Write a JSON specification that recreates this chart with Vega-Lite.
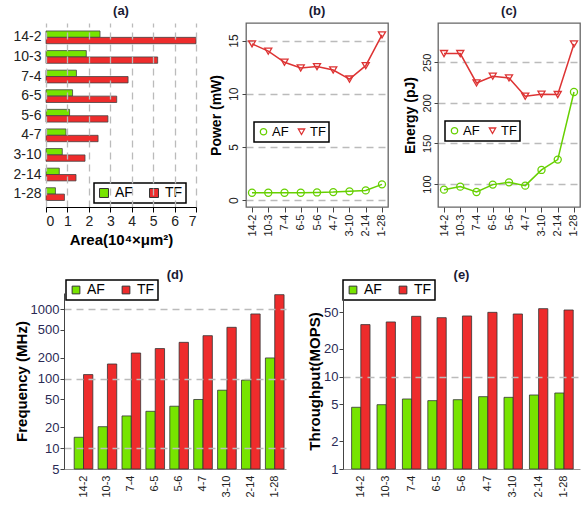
{
  "$schema": "https://vega.github.io/schema/vega-lite/v6.json",
  "padding": {"left": 12, "top": 4, "right": 0, "bottom": 0},
  "background": "white",
  "data": {"values": [
    {"config":"14-2","series":"AF","area":2.52,"power":0.69,"energy":93,"freq":14.3,"thr":4.66},
    {"config":"10-3","series":"AF","area":1.88,"power":0.69,"energy":96.7,"freq":20.3,"thr":4.97},
    {"config":"7-4","series":"AF","area":1.42,"power":0.69,"energy":90.1,"freq":29,"thr":5.73},
    {"config":"6-5","series":"AF","area":1.24,"power":0.69,"energy":99.2,"freq":33.8,"thr":5.5},
    {"config":"5-6","series":"AF","area":1.10,"power":0.72,"energy":102,"freq":40,"thr":5.63},
    {"config":"4-7","series":"AF","area":0.93,"power":0.75,"energy":97.9,"freq":50,"thr":6.07},
    {"config":"3-10","series":"AF","area":0.76,"power":0.82,"energy":117.3,"freq":68,"thr":5.97},
    {"config":"2-14","series":"AF","area":0.62,"power":0.91,"energy":130,"freq":95,"thr":6.33},
    {"config":"1-28","series":"AF","area":0.44,"power":1.48,"energy":213.4,"freq":198,"thr":6.65},
    {"config":"14-2","series":"TF","area":7.0,"power":14.69,"energy":260.7,"freq":114,"thr":36.6},
    {"config":"10-3","series":"TF","area":5.21,"power":14.0,"energy":260.7,"freq":162,"thr":39.1},
    {"config":"7-4","series":"TF","area":3.83,"power":12.96,"energy":224.5,"freq":233,"thr":45.0},
    {"config":"6-5","series":"TF","area":3.30,"power":12.42,"energy":232.8,"freq":270,"thr":43.5},
    {"config":"5-6","series":"TF","area":2.89,"power":12.55,"energy":230.7,"freq":332,"thr":45.4},
    {"config":"4-7","series":"TF","area":2.43,"power":12.23,"energy":208.1,"freq":414,"thr":49.7},
    {"config":"3-10","series":"TF","area":1.82,"power":11.38,"energy":210.6,"freq":546,"thr":47.7},
    {"config":"2-14","series":"TF","area":1.40,"power":12.64,"energy":210.2,"freq":850,"thr":54.5},
    {"config":"1-28","series":"TF","area":0.86,"power":15.53,"energy":272.6,"freq":1610,"thr":52.7}
  ]},
  "config": {
    "font": "Liberation Sans",
    "view": {"stroke": null},
    "axis": {"labelFont": "Liberation Sans", "titleFont": "Liberation Sans", "labelColor": "#222", "titleColor": "#000", "domainColor": "#444", "tickColor": "#444", "gridColor": "#bbbbbb", "gridDash": [7, 5], "gridWidth": 1.3, "titleFontWeight": "bold"},
    "title": {"fontSize": 13, "fontWeight": "bold", "color": "#1a1a33", "offset": 5, "frame": "group"},
    "legend": {"labelFont": "Liberation Sans", "labelFontSize": 13, "labelColor": "#000", "strokeColor": "#000", "fillColor": "#fff", "padding": 3, "cornerRadius": 0, "strokeWidth": 1.5}
  },
  "resolve": {"scale": {"color": "independent", "shape": "independent", "x": "independent", "y": "independent", "xOffset": "independent", "yOffset": "independent"}, "legend": {"color": "independent", "shape": "independent"}},
  "spacing": 22,
  "vconcat": [
    {
      "hconcat": [
        {
          "width": 150, "height": 184, "title": "(a)",
          "mark": {"type": "bar", "stroke": "#444", "strokeWidth": 0.8},
          "encoding": {
            "y": {"field": "config", "type": "nominal", "sort": ["14-2","10-3","7-4","6-5","5-6","4-7","3-10","2-14","1-28"], "scale": {"paddingInner": 0.35, "paddingOuter": 0.37, "align": 0.55}, "axis": {"title": null, "labelFontSize": 14, "ticks": false, "domain": false, "labelPadding": 5}},
            "yOffset": {"field": "series", "type": "nominal", "sort": ["AF","TF"], "scale": {"paddingInner": 0}},
            "x": {"field": "area", "type": "quantitative", "scale": {"domain": [0, 7], "nice": false}, "axis": {"values": [0,1,2,3,4,5,6,7], "grid": true, "title": "Area(10⁴×μm²)", "titleFontSize": 15, "labelFontSize": 14, "tickSize": 5, "domainColor": "#000", "tickColor": "#000", "labelPadding": 2, "titlePadding": 4, "zindex": 1}},
            "color": {"field": "series", "type": "nominal", "scale": {"domain": ["AF","TF"], "range": ["#77E400","#EE2C2C"]}, "legend": {"orient": "none", "legendX": 48, "legendY": 160, "direction": "horizontal", "title": null, "symbolType": "square", "symbolSize": 80, "labelFontSize": 14, "columnPadding": 14, "symbolStrokeColor": "#333", "symbolStrokeWidth": 1}}
          }
        },
        {
          "width": 142, "height": 184, "title": "(b)",
          "view": {"stroke": "#666", "strokeWidth": 1.3},
          "encoding": {
            "x": {"field": "config", "type": "ordinal", "sort": ["14-2","10-3","7-4","6-5","5-6","4-7","3-10","2-14","1-28"], "scale": {"type": "point", "padding": 0.37}, "axis": {"title": null, "labelAngle": 270, "labelFontSize": 11, "domain": false, "tickSize": 5, "labelPadding": 2}},
            "y": {"field": "power", "type": "quantitative", "scale": {"domain": [-0.65, 16.65], "nice": false, "zero": false}, "axis": {"values": [0,5,10,15], "grid": true, "title": "Power (mW)", "titleFontSize": 14, "labelFontSize": 12, "labelAngle": 270, "domain": false, "tickSize": 4, "labelPadding": 2, "titlePadding": 4}},
            "color": {"field": "series", "type": "nominal", "scale": {"domain": ["AF","TF"], "range": ["#66D000","#DD3333"]}, "legend": {"orient": "none", "legendX": 8, "legendY": 99, "direction": "horizontal", "title": null, "symbolSize": 40, "symbolStrokeWidth": 1.3, "columnPadding": 6, "labelOffset": 2}}
          },
          "layer": [
            {"mark": {"type": "line", "strokeWidth": 1.5}},
            {"mark": {"type": "point", "filled": false, "size": 50, "strokeWidth": 1.3, "opacity": 1},
             "encoding": {
               "shape": {"field": "series", "type": "nominal", "scale": {"domain": ["AF","TF"], "range": ["circle","triangle-down"]}, "legend": {"orient": "none", "legendX": 8, "legendY": 99, "direction": "horizontal", "title": null, "symbolSize": 40, "symbolStrokeWidth": 1.3, "columnPadding": 6, "labelOffset": 2}}
             }}
          ]
        },
        {
          "width": 142, "height": 184, "title": "(c)",
          "view": {"stroke": "#666", "strokeWidth": 1.3},
          "encoding": {
            "x": {"field": "config", "type": "ordinal", "sort": ["14-2","10-3","7-4","6-5","5-6","4-7","3-10","2-14","1-28"], "scale": {"type": "point", "padding": 0.37}, "axis": {"title": null, "labelAngle": 270, "labelFontSize": 11, "domain": false, "tickSize": 5, "labelPadding": 2}},
            "y": {"field": "energy", "type": "quantitative", "scale": {"domain": [71.6, 298.4], "nice": false, "zero": false}, "axis": {"values": [100,150,200,250], "grid": true, "title": "Energy (pJ)", "titleFontSize": 14, "labelFontSize": 11, "labelAngle": 270, "domain": false, "tickSize": 4, "labelPadding": 2, "titlePadding": 4}},
            "color": {"field": "series", "type": "nominal", "scale": {"domain": ["AF","TF"], "range": ["#66D000","#DD3333"]}, "legend": {"orient": "none", "legendX": 7, "legendY": 98, "direction": "horizontal", "title": null, "symbolSize": 40, "symbolStrokeWidth": 1.3, "columnPadding": 6, "labelOffset": 2}}
          },
          "layer": [
            {"mark": {"type": "line", "strokeWidth": 1.5}},
            {"mark": {"type": "point", "filled": false, "size": 50, "strokeWidth": 1.3, "opacity": 1},
             "encoding": {
               "shape": {"field": "series", "type": "nominal", "scale": {"domain": ["AF","TF"], "range": ["circle","triangle-down"]}, "legend": {"orient": "none", "legendX": 7, "legendY": 98, "direction": "horizontal", "title": null, "symbolSize": 40, "symbolStrokeWidth": 1.3, "columnPadding": 6, "labelOffset": 2}}
             }}
          ]
        }
      ],
      "spacing": 50, "bounds": "flush",
      "resolve": {"scale": {"color": "independent", "shape": "independent", "x": "independent", "y": "independent", "yOffset": "independent"}, "legend": {"color": "independent", "shape": "independent"}}
    },
    {
      "hconcat": [
        {"width": 1, "height": 1, "data": {"values": []}, "mark": {"type": "point", "opacity": 0}, "encoding": {}},
        {
          "hconcat": [
            {
              "width": 222, "height": 176, "title": {"text": "(d)", "offset": -3},
              "mark": {"type": "bar", "stroke": "#333", "strokeWidth": 0.8},
              "encoding": {
                "x": {"field": "config", "type": "nominal", "sort": ["14-2","10-3","7-4","6-5","5-6","4-7","3-10","2-14","1-28"], "scale": {"paddingInner": 0.22, "paddingOuter": 0.254, "align": 0.84}, "axis": {"title": null, "labelAngle": 270, "labelFontSize": 11, "ticks": false, "domainColor": "#999", "labelPadding": 6}},
                "xOffset": {"field": "series", "type": "nominal", "sort": ["AF","TF"], "scale": {"paddingInner": 0}},
                "y": {"field": "freq", "type": "quantitative", "scale": {"type": "log", "domain": [5, 1702], "nice": false}, "axis": {"values": [5,10,20,50,100,200,500,1000], "format": "d", "grid": true, "gridOpacity": {"condition": {"test": "datum.value == 10 || datum.value == 100 || datum.value == 1000", "value": 1}, "value": 0}, "title": "Frequency (MHz)", "titleFontSize": 15, "labelFontSize": 13, "labelColor": "#2a2a55", "tickSize": 4, "labelPadding": 1, "titlePadding": 1, "zindex": 1}},
                "y2": {"datum": 5},
                "color": {"field": "series", "type": "nominal", "scale": {"domain": ["AF","TF"], "range": ["#77E400","#EE2C2C"]}, "legend": {"orient": "none", "legendX": 2, "legendY": -13, "direction": "horizontal", "title": null, "symbolType": "square", "symbolSize": 60, "labelFontSize": 14, "columnPadding": 14, "symbolStrokeColor": "#333", "symbolStrokeWidth": 1}}
              }
            },
            {
              "width": 237, "height": 176, "title": {"text": "(e)", "offset": -3},
              "mark": {"type": "bar", "stroke": "#333", "strokeWidth": 0.8},
              "encoding": {
                "x": {"field": "config", "type": "nominal", "sort": ["14-2","10-3","7-4","6-5","5-6","4-7","3-10","2-14","1-28"], "scale": {"paddingInner": 0.2756, "paddingOuter": 0.303, "align": 0.56}, "axis": {"title": null, "labelAngle": 270, "labelFontSize": 11, "ticks": false, "domainColor": "#999", "labelPadding": 6}},
                "xOffset": {"field": "series", "type": "nominal", "sort": ["AF","TF"], "scale": {"paddingInner": 0}},
                "y": {"field": "thr", "type": "quantitative", "scale": {"type": "log", "domain": [1, 80.5], "nice": false}, "axis": {"values": [1,2,5,10,20,50], "format": "d", "grid": true, "gridOpacity": {"condition": {"test": "datum.value == 10", "value": 1}, "value": 0}, "title": "Throughput(MOPS)", "titleFontSize": 15, "labelFontSize": 13, "labelColor": "#2a2a55", "tickSize": 4, "labelPadding": 1, "titlePadding": 1, "zindex": 1}},
                "y2": {"datum": 1},
                "color": {"field": "series", "type": "nominal", "scale": {"domain": ["AF","TF"], "range": ["#77E400","#EE2C2C"]}, "legend": {"orient": "none", "legendX": 0, "legendY": -13, "direction": "horizontal", "title": null, "symbolType": "square", "symbolSize": 60, "labelFontSize": 14, "columnPadding": 14, "symbolStrokeColor": "#333", "symbolStrokeWidth": 1}}
              }
            }
          ],
          "spacing": 57, "bounds": "flush",
          "resolve": {"scale": {"color": "independent", "x": "independent", "y": "independent", "xOffset": "independent"}, "legend": {"color": "independent"}}
        }
      ],
      "spacing": 17, "bounds": "flush"
    }
  ]
}
